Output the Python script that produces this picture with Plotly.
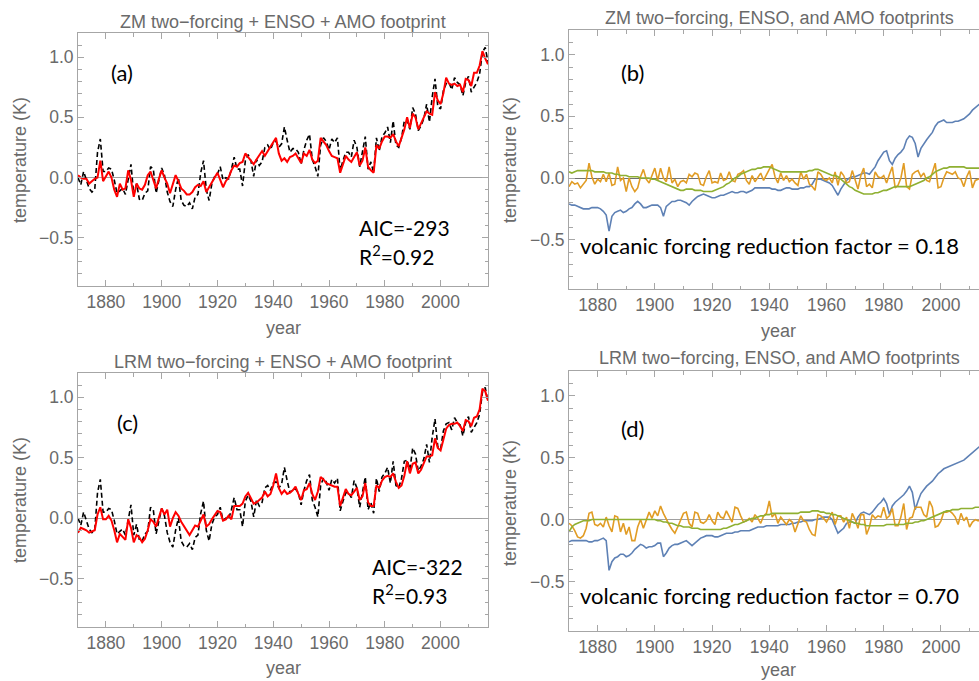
import plotly.graph_objects as go

W, H = 979, 681

years = list(range(1870, 2018))

observed = [
    0.00, -0.06, 0.05, -0.02, -0.09, -0.12, -0.10, 0.21, 0.32, 0.05,
    0.05, 0.08, 0.07, -0.02, -0.13, -0.11, -0.09, -0.14, -0.03, 0.11,
    -0.14, -0.05, -0.18, -0.19, -0.13, -0.11, 0.09, 0.07, -0.13, -0.01,
    0.08, 0.02, -0.12, -0.20, -0.24, -0.10, 0.00, -0.19, -0.23, -0.24,
    -0.21, -0.26, -0.16, -0.14, 0.04, 0.14, -0.10, -0.19, -0.05, 0.01,
    0.03, 0.09, -0.02, 0.00, -0.01, 0.07, 0.17, 0.07, 0.07, -0.07,
    0.14, 0.19, 0.14, 0.01, 0.15, 0.10, 0.13, 0.25, 0.27, 0.23,
    0.29, 0.30, 0.25, 0.28, 0.42, 0.31, 0.21, 0.24, 0.24, 0.21,
    0.11, 0.23, 0.31, 0.36, 0.15, 0.09, 0.01, 0.27, 0.33, 0.30,
    0.23, 0.32, 0.29, 0.33, 0.06, 0.14, 0.21, 0.21, 0.17, 0.31,
    0.25, 0.09, 0.22, 0.34, 0.07, 0.13, 0.04, 0.33, 0.22, 0.34,
    0.37, 0.42, 0.29, 0.47, 0.27, 0.25, 0.33, 0.47, 0.48, 0.40,
    0.58, 0.53, 0.39, 0.43, 0.49, 0.61, 0.46, 0.67, 0.82, 0.59,
    0.57, 0.72, 0.78, 0.79, 0.73, 0.83, 0.79, 0.77, 0.68, 0.79,
    0.84, 0.71, 0.75, 0.79, 0.86, 1.04, 1.08, 0.96,
]

zm_fit = [
    0.02, 0.00, -0.01, -0.01, -0.05, -0.03, -0.01, 0.00, 0.14, -0.03,
    0.01, 0.05, 0.00, -0.10, -0.16, -0.05, -0.10, -0.09, 0.06, -0.02,
    -0.16, -0.05, -0.09, -0.10, -0.06, 0.02, 0.05, -0.02, -0.09, -0.01,
    0.06, 0.00, -0.05, -0.13, -0.06, 0.02, -0.03, -0.09, -0.11, -0.14,
    -0.14, -0.12, -0.08, -0.06, -0.07, -0.03, -0.12, -0.08, -0.04, 0.00,
    0.04, -0.02, -0.08, -0.03, 0.00, 0.06, 0.10, 0.09, 0.12, 0.13,
    0.20, 0.17, 0.14, 0.11, 0.15, 0.18, 0.22, 0.18, 0.22, 0.26,
    0.29, 0.33, 0.20, 0.14, 0.16, 0.13, 0.17, 0.18, 0.20, 0.16,
    0.12, 0.20, 0.18, 0.23, 0.15, 0.12, 0.14, 0.33, 0.30, 0.27,
    0.22, 0.18, 0.17, 0.16, 0.04, 0.12, 0.18, 0.15, 0.13, 0.17,
    0.21, 0.10, 0.14, 0.25, 0.09, 0.06, 0.04, 0.27, 0.24, 0.30,
    0.34, 0.34, 0.33, 0.36, 0.30, 0.26, 0.33, 0.40, 0.50, 0.41,
    0.53, 0.50, 0.40, 0.45, 0.49, 0.55, 0.53, 0.52, 0.71, 0.64,
    0.61, 0.70, 0.83, 0.78, 0.77, 0.78, 0.76, 0.77, 0.71, 0.82,
    0.81, 0.76, 0.87, 0.87, 0.93, 1.05, 0.99, 0.94,
]

lrm_fit = [
    -0.12, -0.08, -0.09, -0.10, -0.12, -0.11, -0.10, 0.03, 0.09, -0.01,
    -0.01, 0.02, -0.02, -0.10, -0.20, -0.13, -0.16, -0.18, -0.01, -0.08,
    -0.20, -0.14, -0.16, -0.20, -0.17, -0.10, -0.01, -0.03, -0.07, 0.01,
    0.08, 0.03, 0.07, -0.07, 0.00, 0.05, 0.02, -0.03, -0.07, -0.10,
    -0.14, -0.10, -0.06, -0.07, -0.02, 0.03, -0.07, -0.05, -0.01, 0.02,
    0.06, 0.05, -0.02, -0.01, 0.02, -0.01, 0.10, 0.10, 0.10, 0.12,
    0.18, 0.21, 0.16, 0.12, 0.13, 0.15, 0.17, 0.22, 0.18, 0.20,
    0.27, 0.37, 0.25, 0.20, 0.23, 0.20, 0.21, 0.23, 0.26, 0.20,
    0.15, 0.23, 0.24, 0.29, 0.20, 0.15, 0.22, 0.34, 0.32, 0.29,
    0.28, 0.27, 0.26, 0.26, 0.10, 0.17, 0.24, 0.20, 0.19, 0.22,
    0.25, 0.15, 0.18, 0.29, 0.13, 0.10, 0.10, 0.27, 0.25, 0.31,
    0.34, 0.35, 0.34, 0.37, 0.30, 0.25, 0.27, 0.35, 0.47, 0.37,
    0.45, 0.46, 0.37, 0.40, 0.46, 0.51, 0.51, 0.52, 0.66, 0.58,
    0.56, 0.64, 0.74, 0.77, 0.78, 0.78, 0.79, 0.76, 0.72, 0.81,
    0.80, 0.76, 0.83, 0.84, 0.90, 1.07, 1.05, 0.97,
]

zm_forcing = [
    -0.21, -0.22, -0.22, -0.23, -0.24, -0.25, -0.25, -0.25, -0.24, -0.24,
    -0.24, -0.25, -0.27, -0.30, -0.43, -0.31, -0.28, -0.27, -0.26, -0.28,
    -0.27, -0.25, -0.24, -0.21, -0.19, -0.21, -0.24, -0.24, -0.23, -0.22,
    -0.22, -0.22, -0.24, -0.31, -0.23, -0.21, -0.19, -0.19, -0.18, -0.18,
    -0.19, -0.20, -0.22, -0.19, -0.17, -0.15, -0.14, -0.13, -0.14, -0.15,
    -0.16, -0.16, -0.15, -0.14, -0.14, -0.13, -0.12, -0.11, -0.12, -0.12,
    -0.11, -0.11, -0.12, -0.11, -0.10, -0.08, -0.08, -0.08, -0.08, -0.08,
    -0.08, -0.09, -0.09, -0.10, -0.10, -0.09, -0.08, -0.08, -0.09, -0.09,
    -0.09, -0.08, -0.08, -0.07, -0.07, -0.05, -0.01, -0.01, -0.01, -0.02,
    -0.03, -0.04, -0.06, -0.10, -0.14, -0.09, -0.05, -0.02, 0.00, 0.01,
    0.01, 0.02, 0.03, 0.04, 0.04, 0.03, 0.06, 0.09, 0.14, 0.18,
    0.21, 0.22, 0.14, 0.11, 0.16, 0.19, 0.21, 0.24, 0.31, 0.34,
    0.33, 0.28, 0.17, 0.24, 0.28, 0.31, 0.34, 0.37, 0.42, 0.45,
    0.46, 0.47, 0.45, 0.45, 0.45, 0.46, 0.46, 0.47, 0.48, 0.50,
    0.52, 0.55, 0.57, 0.59, 0.61, 0.63, 0.65, 0.67,
]

zm_enso = [
    -0.07, -0.03, -0.05, -0.04, -0.08, -0.05, -0.02, 0.12, 0.01, -0.05,
    -0.01, -0.03, 0.03, -0.03, 0.04, -0.06, -0.05, 0.09, -0.02, 0.00,
    -0.11, 0.00, -0.07, -0.11, -0.08, 0.01, 0.07, -0.01, -0.04, 0.02,
    0.08, -0.02, 0.08, 0.00, -0.03, 0.09, -0.04, -0.01, -0.07, -0.03,
    -0.02, -0.04, 0.03, 0.01, 0.04, 0.03, -0.05, -0.06, 0.01, 0.06,
    -0.04, -0.03, -0.04, 0.04, -0.02, -0.01, 0.05, -0.02, -0.03, 0.03,
    0.04, 0.06, -0.02, -0.05, 0.02, -0.03, 0.00, 0.04, -0.02, 0.03,
    0.07, 0.11, 0.01, -0.04, 0.04, -0.02, 0.02, -0.03, -0.01, -0.04,
    -0.06, 0.05, -0.01, 0.03, -0.05, -0.07, -0.10, 0.05, 0.03, -0.01,
    -0.02, 0.00, -0.04, 0.05, -0.06, 0.05, 0.02, -0.04, -0.03, 0.06,
    -0.01, -0.09, 0.02, 0.08, -0.07, -0.05, -0.08, 0.05, 0.01, 0.00,
    0.02, -0.04, 0.03, 0.09, -0.08, -0.06, 0.00, 0.12, -0.07, -0.09,
    0.03, 0.05, 0.06, 0.01, 0.04, -0.02, -0.03, 0.04, 0.12, -0.08,
    -0.07, 0.00, 0.05, 0.04, 0.03, 0.05, 0.00, -0.01, -0.07, 0.01,
    0.06, -0.08, -0.02, -0.01, 0.00, 0.08, 0.10, 0.00,
]

zm_amo = [
    0.05, 0.04, 0.05, 0.06, 0.06, 0.06, 0.06, 0.06, 0.06, 0.05,
    0.05, 0.05, 0.05, 0.04, 0.04, 0.04, 0.03, 0.03, 0.02, 0.02,
    0.02, 0.01, 0.01, 0.01, 0.01, 0.00, 0.00, 0.00, 0.00, -0.01,
    -0.01, -0.02, -0.03, -0.04, -0.05, -0.06, -0.07, -0.08, -0.09, -0.10,
    -0.10, -0.09, -0.09, -0.09, -0.10, -0.10, -0.10, -0.11, -0.11, -0.11,
    -0.11, -0.10, -0.09, -0.08, -0.07, -0.05, -0.04, -0.02, 0.00, 0.01,
    0.03, 0.04, 0.05, 0.06, 0.07, 0.07, 0.08, 0.08, 0.09, 0.09,
    0.09, 0.08, 0.07, 0.06, 0.05, 0.05, 0.05, 0.05, 0.05, 0.05,
    0.05, 0.05, 0.05, 0.05, 0.06, 0.06, 0.07, 0.07, 0.06, 0.05,
    0.04, 0.03, 0.02, 0.02, 0.01, -0.01, -0.03, -0.05, -0.07, -0.08,
    -0.10, -0.11, -0.12, -0.13, -0.13, -0.13, -0.13, -0.12, -0.12, -0.11,
    -0.10, -0.10, -0.09, -0.08, -0.07, -0.07, -0.07, -0.07, -0.07, -0.07,
    -0.06, -0.05, -0.04, -0.03, -0.02, 0.00, 0.01, 0.03, 0.05, 0.06,
    0.07, 0.08, 0.08, 0.09, 0.09, 0.09, 0.09, 0.09, 0.09, 0.08,
    0.08, 0.08, 0.08, 0.08, 0.08, 0.08, 0.08, 0.08,
]

lrm_forcing = [
    -0.18, -0.17, -0.17, -0.17, -0.17, -0.17, -0.17, -0.18, -0.18, -0.17,
    -0.17, -0.16, -0.15, -0.17, -0.41, -0.34, -0.31, -0.30, -0.28, -0.28,
    -0.30, -0.29, -0.27, -0.24, -0.22, -0.20, -0.21, -0.23, -0.22, -0.22,
    -0.21, -0.19, -0.19, -0.30, -0.27, -0.23, -0.21, -0.20, -0.20, -0.19,
    -0.18, -0.17, -0.19, -0.21, -0.19, -0.17, -0.15, -0.14, -0.13, -0.13,
    -0.13, -0.14, -0.14, -0.13, -0.12, -0.11, -0.11, -0.11, -0.10, -0.10,
    -0.09, -0.09, -0.09, -0.09, -0.08, -0.07, -0.06, -0.06, -0.06, -0.05,
    -0.05, -0.05, -0.05, -0.05, -0.04, -0.04, -0.04, -0.04, -0.03, -0.03,
    -0.02, -0.02, -0.01, -0.01, -0.01, -0.01, 0.00, 0.00, 0.01, 0.02,
    0.02, 0.02, 0.00, -0.05, -0.11, -0.09, -0.07, -0.03, -0.02, -0.02,
    -0.03, 0.02, 0.05, 0.06, 0.05, 0.04, 0.06, 0.09, 0.12, 0.14,
    0.17, 0.13, 0.04, 0.11, 0.14, 0.16, 0.18, 0.20, 0.23, 0.27,
    0.22, 0.08, 0.15, 0.21, 0.24, 0.27, 0.29, 0.31, 0.34, 0.37,
    0.39, 0.41, 0.42, 0.43, 0.44, 0.45, 0.46, 0.47, 0.48, 0.50,
    0.52, 0.54, 0.56, 0.58, 0.60, 0.62, 0.64, 0.66,
]

lrm_enso = [
    -0.03, -0.05, -0.09, -0.14, -0.15, -0.13, -0.07, 0.05, 0.06, -0.04,
    -0.05, -0.03, -0.06, 0.02, -0.05, -0.10, 0.03, 0.02, -0.10, -0.03,
    -0.12, -0.06, -0.17, -0.17, -0.06, 0.00, -0.07, 0.00, 0.06, 0.01,
    0.07, 0.03, 0.11, 0.05, 0.00, -0.04, -0.08, -0.11, -0.06, -0.01,
    0.05, 0.06, -0.03, -0.06, 0.06, 0.05, -0.02, -0.03, -0.01, 0.04,
    -0.01, -0.04, 0.06, 0.02, 0.01, 0.07, 0.03, -0.02, 0.10, 0.09,
    0.03, -0.02, -0.01, 0.01, -0.02, 0.04, 0.01, -0.03, 0.03, 0.05,
    0.15, 0.02, 0.05, -0.03, 0.02, -0.01, -0.04, 0.00, -0.02, -0.10,
    -0.03, 0.03, -0.01, -0.02, -0.08, -0.12, -0.13, 0.04, 0.03, 0.01,
    -0.02, 0.02, 0.06, -0.04, 0.03, 0.03, -0.02, 0.02, -0.07, 0.05,
    0.00, -0.07, 0.04, 0.04, -0.12, -0.06, 0.04, 0.01, 0.03, 0.02,
    0.10, 0.01, 0.03, 0.09, -0.05, -0.05, 0.02, 0.13, -0.08, 0.01,
    0.02, 0.10, 0.10, 0.10, 0.04, 0.02, 0.15, 0.10, -0.06, -0.05,
    -0.01, 0.06, 0.06, 0.07, 0.05, 0.02, -0.04, 0.05, -0.01, 0.02,
    -0.06, -0.02, 0.00, -0.01, 0.00, 0.05, 0.08, 0.00,
]

lrm_amo = [
    -0.10, -0.06, -0.04, -0.03, -0.02, -0.01, -0.01, -0.01, 0.00, 0.00,
    0.00, 0.00, 0.00, 0.00, 0.00, 0.00, 0.00, 0.00, 0.00, 0.00,
    0.00, 0.00, 0.00, 0.00, 0.00, 0.00, 0.00, 0.00, 0.00, 0.00,
    0.00, -0.01, -0.01, -0.02, -0.02, -0.03, -0.03, -0.04, -0.05, -0.05,
    -0.06, -0.06, -0.06, -0.07, -0.07, -0.07, -0.08, -0.08, -0.08, -0.08,
    -0.08, -0.08, -0.08, -0.08, -0.07, -0.07, -0.06, -0.05, -0.04, -0.04,
    -0.03, -0.02, -0.01, 0.00, 0.01, 0.01, 0.02, 0.03, 0.03, 0.04,
    0.04, 0.05, 0.05, 0.05, 0.05, 0.05, 0.05, 0.05, 0.05, 0.05,
    0.05, 0.06, 0.06, 0.06, 0.06, 0.07, 0.07, 0.07, 0.06, 0.06,
    0.05, 0.05, 0.04, 0.04, 0.03, 0.02, 0.01, 0.00, -0.01, -0.02,
    -0.03, -0.03, -0.04, -0.04, -0.05, -0.05, -0.05, -0.05, -0.05, -0.05,
    -0.05, -0.04, -0.04, -0.04, -0.04, -0.04, -0.04, -0.04, -0.03, -0.03,
    -0.03, -0.02, -0.02, -0.01, -0.01, 0.00, 0.01, 0.02, 0.03, 0.04,
    0.05, 0.06, 0.07, 0.07, 0.08, 0.08, 0.08, 0.09, 0.09, 0.09,
    0.09, 0.09, 0.10, 0.10, 0.10, 0.10, 0.10, 0.10,
]

for name, arr in [("observed", observed), ("zm_fit", zm_fit), ("lrm_fit", lrm_fit),
                  ("zm_forcing", zm_forcing), ("zm_enso", zm_enso), ("zm_amo", zm_amo),
                  ("lrm_forcing", lrm_forcing), ("lrm_enso", lrm_enso), ("lrm_amo", lrm_amo)]:
    assert len(arr) == len(years), (name, len(arr))

titles = ["ZM two\u2212forcing + ENSO + AMO footprint",
          "ZM two\u2212forcing, ENSO, and AMO footprints",
          "LRM two\u2212forcing + ENSO + AMO footprint",
          "LRM two\u2212forcing, ENSO, and AMO footprints"]
panel_labels = ["(a)", "(b)", "(c)", "(d)"]
x_ticks = [1880, 1900, 1920, 1940, 1960, 1980, 2000]
y_ticks = [-0.5, 0.0, 0.5, 1.0]
y_ticktext = ["\u22120.5", "0.0", "0.5", "1.0"]

BLUE = "#5E81B5"
ORANGE = "#E19C24"
GREEN = "#8FB032"
FRAME = "#a6a6a6"
TXT = "#6a6a6a"
AXFONT = "Liberation Sans"
LBLFONT = "Lato"


def px(x):
    return x / W


def py(y):
    return 1 - y / H


fig = go.Figure()

# panel (a)
fig.add_trace(go.Scatter(x=years, y=observed, mode="lines", xaxis="x", yaxis="y",
                         line=dict(color="black", width=1.6, dash="5px,3px")))
fig.add_trace(go.Scatter(x=years, y=zm_fit, mode="lines", xaxis="x", yaxis="y",
                         line=dict(color="#ff0000", width=2)))
# panel (b)
fig.add_trace(go.Scatter(x=years, y=zm_forcing, mode="lines", xaxis="x2", yaxis="y2",
                         line=dict(color=BLUE, width=1.6)))
fig.add_trace(go.Scatter(x=years, y=zm_enso, mode="lines", xaxis="x2", yaxis="y2",
                         line=dict(color=ORANGE, width=1.6)))
fig.add_trace(go.Scatter(x=years, y=zm_amo, mode="lines", xaxis="x2", yaxis="y2",
                         line=dict(color=GREEN, width=1.6)))
# panel (c)
fig.add_trace(go.Scatter(x=years, y=observed, mode="lines", xaxis="x3", yaxis="y3",
                         line=dict(color="black", width=1.6, dash="5px,3px")))
fig.add_trace(go.Scatter(x=years, y=lrm_fit, mode="lines", xaxis="x3", yaxis="y3",
                         line=dict(color="#ff0000", width=2)))
# panel (d)
fig.add_trace(go.Scatter(x=years, y=lrm_forcing, mode="lines", xaxis="x4", yaxis="y4",
                         line=dict(color=BLUE, width=1.6)))
fig.add_trace(go.Scatter(x=years, y=lrm_enso, mode="lines", xaxis="x4", yaxis="y4",
                         line=dict(color=ORANGE, width=1.6)))
fig.add_trace(go.Scatter(x=years, y=lrm_amo, mode="lines", xaxis="x4", yaxis="y4",
                         line=dict(color=GREEN, width=1.6)))

# panel geometry in pixels: left, right, top, bottom
panels = [
    (78, 488, 33, 286),
    (569, 979, 30, 289),
    (78, 488, 373, 627),
    (569, 979, 371, 631),
]
x_ranges = [[1870, 2017], [1870, 2013.3], [1870, 2017], [1870, 2013.3]]
zero_colors = ["#a0a0a0", "#707070", "#a0a0a0", "#a0a0a0"]

layout = dict(
    width=W, height=H, margin=dict(l=0, r=0, t=0, b=0),
    paper_bgcolor="white", plot_bgcolor="white", showlegend=False,
)

for i, (l, r, t, b) in enumerate(panels):
    sfx = "" if i == 0 else str(i + 1)
    right_side = i in (1, 3)
    layout["xaxis" + sfx] = dict(
        domain=[px(l), px(r)], anchor="y" + sfx, range=x_ranges[i],
        showline=True, linecolor=FRAME, linewidth=1,
        mirror="ticks",
        ticks="inside", ticklen=6, tickcolor=FRAME, tickwidth=1,
        tickvals=x_ticks, ticktext=[str(v) for v in x_ticks],
        tickfont=dict(family=AXFONT, size=17.5, color=TXT),
        minor=dict(dtick=10, tick0=1870, ticks="inside", ticklen=3.5, tickcolor=FRAME),
        showgrid=False, zeroline=False,
    )
    layout["yaxis" + sfx] = dict(
        domain=[py(b), py(t)], anchor="x" + sfx, range=[-0.9, 1.2],
        showline=True, linecolor=FRAME, linewidth=1,
        mirror=False if right_side else "ticks",
        ticks="inside", ticklen=6, tickcolor=FRAME, tickwidth=1,
        tickvals=y_ticks, ticktext=y_ticktext,
        tickfont=dict(family=AXFONT, size=17.5, color=TXT),
        minor=dict(dtick=0.1, tick0=0, ticks="inside", ticklen=3.5, tickcolor=FRAME),
        showgrid=False, zeroline=True, zerolinecolor=zero_colors[i], zerolinewidth=1,
    )

annotations = []


def add_text(x, y, text, size, color, family, xanchor="center", angle=0):
    annotations.append(dict(
        x=px(x), y=py(y), xref="paper", yref="paper", text=text, showarrow=False,
        xanchor=xanchor, yanchor="middle", textangle=angle,
        font=dict(family=family, size=size, color=color),
    ))


# titles
add_text(283, 22, titles[0], 18, TXT, AXFONT)
add_text(779, 18, titles[1], 18, TXT, AXFONT)
add_text(283, 362, titles[2], 18, TXT, AXFONT)
add_text(779, 358, titles[3], 18, TXT, AXFONT)

# axis labels
for (xc, yc) in [(283, 328), (778, 331), (283, 668), (778, 670)]:
    add_text(xc, yc, "year", 18, TXT, AXFONT)
for (xc, yc) in [(20, 160), (510, 160), (20, 500), (510, 503)]:
    add_text(xc, yc, "temperature (K)", 18, TXT, AXFONT, angle=-90)

# panel labels
add_text(122, 73, panel_labels[0], 22, "black", LBLFONT)
add_text(632, 73, panel_labels[1], 22, "black", LBLFONT)
add_text(127, 422, panel_labels[2], 22, "black", LBLFONT)
add_text(632, 428, panel_labels[3], 22, "black", LBLFONT)

# statistics
add_text(357, 228, "AIC=-293", 21, "black", LBLFONT, xanchor="left")
add_text(357, 255, "R<sup>2</sup>=0.92", 21, "black", LBLFONT, xanchor="left")
add_text(370, 566, "AIC=-322", 21, "black", LBLFONT, xanchor="left")
add_text(370, 594, "R<sup>2</sup>=0.93", 21, "black", LBLFONT, xanchor="left")
add_text(578, 245, "volcanic forcing reduction factor = 0.18", 22, "black", LBLFONT, xanchor="left")
add_text(578, 595, "volcanic forcing reduction factor = 0.70", 22, "black", LBLFONT, xanchor="left")

layout["annotations"] = annotations
fig.update_layout(**layout)
fig.write_html("out.html")
